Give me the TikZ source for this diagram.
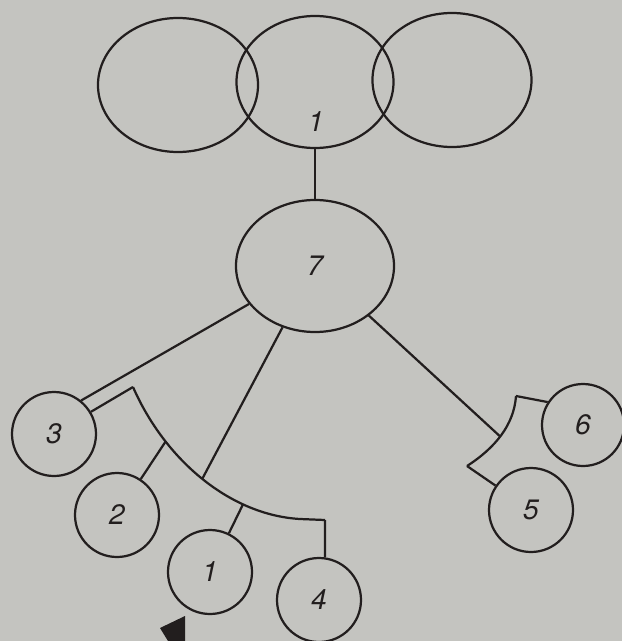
\documentclass[tikz,border=0pt]{standalone}
\usepackage{fontspec}
\newfontfamily\labfont{TeX Gyre Heros}
\usetikzlibrary{shapes.geometric}
\definecolor{paper}{RGB}{196,196,192}
\definecolor{ink}{RGB}{34,30,30}
\tikzset{
  x=0.03cm, y=-0.03cm,
  ln/.style={draw=ink, line width=1.9pt},
  lab/.style={font=\labfont\itshape\fontsize{24}{28}\selectfont, text=ink},
  unit/.style={circle, ln, minimum size=2.52cm, inner sep=0pt, lab},
  oval/.style={ellipse, ln, inner sep=0pt, lab},
}
\begin{document}
\begin{tikzpicture}
\fill[paper] (0,0) rectangle (622,641);
\useasboundingbox (0,0) rectangle (622,641);

% top ellipses
\node[oval, minimum width=4.8cm, minimum height=4.02cm] (eL) at (178,85) {};
\node[oval, minimum width=4.71cm, minimum height=3.96cm] (eM) at (315,82) {};
\node[oval, minimum width=4.77cm, minimum height=4.02cm] (eR) at (452,80) {};
\node[lab] (l1) at (316,122) {1};

% central ellipse
\node[oval, minimum width=4.74cm, minimum height=3.96cm] (e7) at (315,266) {7};

% circles
\node[unit] (c3) at (54,434) {3};
\node[unit] (c2) at (117,515) {2};
\node[unit] (c1) at (210,572) {1};
\node[unit] (c4) at (319,600) {4};
\node[unit, minimum size=2.46cm] (c6) at (583,425) {6};
\node[unit] (c5) at (531,510) {5};

% left arc
\coordinate (aT) at (133,387);
\coordinate (aE) at (325,520);
\draw[ln] (aT) .. controls (165,460) and (230,515) ..
  coordinate[pos=0.27] (a2) coordinate[pos=0.5] (a7) coordinate[pos=0.72] (a1)
  (300,519) -- (aE);
\coordinate (k4) at (aE);

% right arc
\coordinate (rT) at (516,396);
\coordinate (rB) at (467,466);
\draw[ln] (rT) .. controls (514,425) and (495,448) .. coordinate[pos=0.52] (r7) (rB);

% connectors
\draw[ln] (eM) -- (e7);
\draw[ln] (e7) -- (c3.51);
\draw[ln] (c3.31) -- (aT);
\draw[ln] (e7) -- (a7);
\draw[ln] (a2) -- (c2);
\draw[ln] (a1) -- (c1);
\draw[ln] (k4) -- (c4.82);
\draw[ln] (e7) -- (r7);
\draw[ln] (rT) -- (c6.147);
\draw[ln] (rB) -- (c5);

% black marker at bottom
\fill[ink] (160,628) -- (185,616) -- (185,641) -- (168,641) -- cycle;
\end{tikzpicture}
\end{document}
